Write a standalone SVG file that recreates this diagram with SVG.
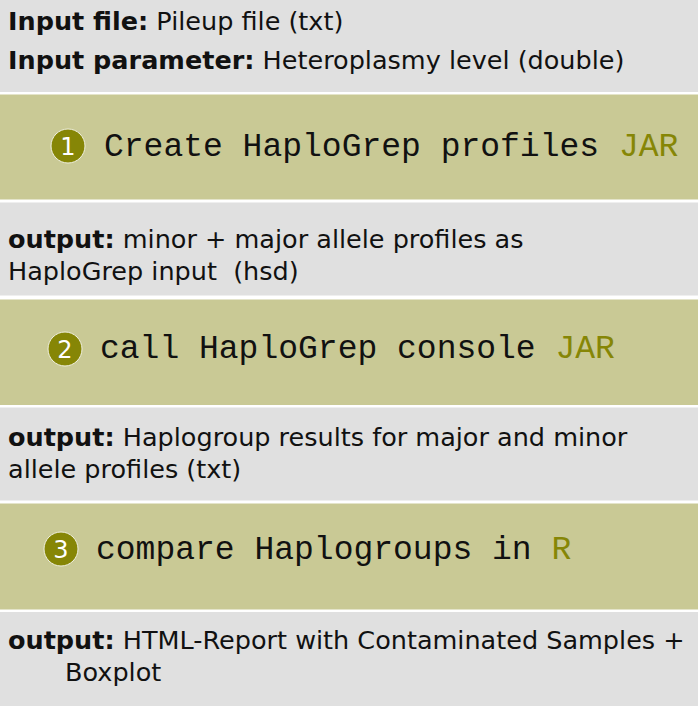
<svg xmlns="http://www.w3.org/2000/svg" width="698" height="706" viewBox="0 0 698 706">
<style>
.gray{fill:#e0e0e0}
.green{fill:#c9c995}
.t{font-family:"DejaVu Sans",sans-serif;font-size:25.5px;fill:#111}
.b{font-weight:bold}
.m{font-family:"Courier New","Nimbus Mono PS","FreeMono","Liberation Mono",monospace;font-size:33px;fill:#111}
.o{fill:#868606}
.c{fill:#868606;stroke:#f0f0e0;stroke-width:1}
.n{font-family:"DejaVu Sans",sans-serif;font-size:24px;fill:#fff;text-anchor:middle}
</style>
<rect width="698" height="706" fill="#ffffff"/>
<g id="input">
<rect class="gray" x="0" y="0" width="698" height="92"/>
<text class="t" x="8" y="30"><tspan class="b">Input file:</tspan> Pileup file (txt)</text>
<text class="t" x="8" y="69"><tspan class="b">Input parameter:</tspan> Heteroplasmy level (double)</text>
</g>
<g id="step1">
<rect class="green" x="0" y="94.5" width="698" height="105"/>
<circle class="c" cx="68" cy="146" r="17"/>
<text class="n" x="68" y="154.5">1</text>
<text class="m" x="104" y="156">Create HaploGrep profiles <tspan class="o">JAR</tspan></text>
</g>
<g id="output1">
<rect class="gray" x="0" y="202.5" width="698" height="93"/>
<text class="t" x="8" y="248"><tspan class="b">output:</tspan> minor + major allele profiles as</text>
<text class="t" x="8" y="280" xml:space="preserve">HaploGrep input  (hsd)</text>
</g>
<g id="step2">
<rect class="green" x="0" y="299.5" width="698" height="105.5"/>
<circle class="c" cx="65" cy="349" r="17"/>
<text class="n" x="65" y="357.5">2</text>
<text class="m" x="100" y="358">call HaploGrep console <tspan class="o">JAR</tspan></text>
</g>
<g id="output2">
<rect class="gray" x="0" y="407.5" width="698" height="93"/>
<text class="t" x="8" y="446"><tspan class="b">output:</tspan> Haplogroup results for major and minor</text>
<text class="t" x="8" y="478">allele profiles (txt)</text>
</g>
<g id="step3">
<rect class="green" x="0" y="503.5" width="698" height="106"/>
<circle class="c" cx="61" cy="549" r="17"/>
<text class="n" x="61" y="557.5">3</text>
<text class="m" x="96" y="559">compare Haplogroups in <tspan class="o">R</tspan></text>
</g>
<g id="output3">
<rect class="gray" x="0" y="612" width="698" height="94"/>
<text class="t" x="8" y="649"><tspan class="b">output:</tspan> HTML-Report with Contaminated Samples +</text>
<text class="t" x="65" y="681">Boxplot</text>
</g>
<g id="connectors"></g>
</svg>
